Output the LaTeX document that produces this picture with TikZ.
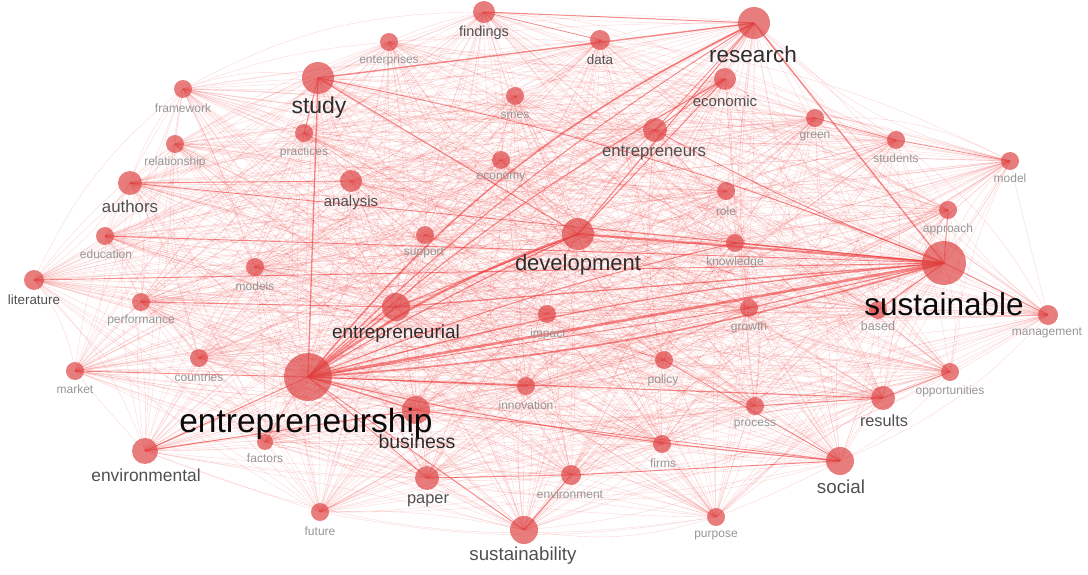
\documentclass[tikz,border=0pt]{standalone}
\usepackage{fontspec}
\setmainfont{Liberation Sans}
\pgfdeclarelayer{bg}
\pgfsetlayers{bg,main}
\definecolor{nodered}{RGB}{222,70,70}
\definecolor{edgered}{RGB}{235,45,45}
\definecolor{lblblack}{RGB}{10,10,10}
\definecolor{lbldark}{RGB}{45,45,45}
\definecolor{lblmid}{RGB}{80,80,80}
\definecolor{lbllight}{RGB}{150,150,150}
\begin{document}
\begin{tikzpicture}[x=1pt,y=-1pt,
  kw/.style={circle,fill=nodered,fill opacity=0.7,inner sep=0pt,draw=none},
  mesh/.style={draw=edgered,draw opacity=0.19,line width=0.4pt},
  strong/.style={draw=edgered,draw opacity=0.55,line width=#1},
  lbl/.style 2 args={inner sep=0pt,text=#2,font=\fontsize{#1}{#1}\selectfont}]
\useasboundingbox (0,0) rectangle (1088,575);
\def\kwlist{findings,enterprises,data,research,economic,study,framework,smes,green,practices,entrepreneurs,students,relationship,economy,model,authors,analysis,role,approach,education,support,development,knowledge,sustainable,literature,models,performance,entrepreneurial,impact,growth,based,management,market,countries,entrepreneurship,policy,opportunities,innovation,results,business,process,environmental,factors,firms,social,paper,environment,future,purpose,sustainability}
% keyword circles
\foreach \n/\x/\y/\r in {
findings/484/12/11, enterprises/389/42/9, data/600/40/10, research/754/23/16,
economic/725/79/11, study/318/78/16, framework/183/89/9, smes/515/96/9,
green/815/118/9, practices/304/133/9, entrepreneurs/655/130/12, students/896/140/9,
relationship/175/144/9, economy/501/160/9, model/1010/161/9, authors/130/183/12,
analysis/351/181/11, role/726/191/9, approach/948/210/9, education/105/236/9,
support/425/235/9, development/578/234/16, knowledge/735/243/9, sustainable/944/263/22,
literature/34/280/10, models/255/267/9, performance/141/302/9, entrepreneurial/396/307/14,
impact/547/314/9, growth/749/308/9, based/878/310/9, management/1048/315/10,
market/75/371/9, countries/199/358/9, entrepreneurship/308/377/24, policy/664/360/9,
opportunities/950/372/9, innovation/526/386/9, results/883/398/12, business/416/410/14,
process/755/406/9, environmental/145/451/13, factors/265/442/8, firms/662/444/9,
social/840/461/14, paper/427/478/12, environment/571/475/10, future/320/512/9,
purpose/716/517/9, sustainability/524/530/14}
  \node[kw,minimum size={2*\r pt}] (\n) at (\x,\y) {};
% connectors
\begin{pgfonlayer}{bg}
\foreach \a [count=\i] in \kwlist {
  \foreach \b [count=\j] in \kwlist {
    \ifnum\j>\i
      \pgfmathtruncatemacro{\bd}{mod(\i*37+\j*17,31)-15}
      \draw[mesh] (\a.center) to[bend left=\bd] (\b.center);
    \fi
  }
}
\foreach \a/\b/\bd/\w in {
entrepreneurship/sustainable/0/2.6pt, entrepreneurship/sustainable/-6/1.6pt,
entrepreneurship/sustainable/5/1.3pt, entrepreneurship/development/8/2.2pt,
entrepreneurship/development/3/1.2pt,
entrepreneurship/research/12/1.6pt, entrepreneurship/research/6/1pt,
entrepreneurship/study/0/1.3pt,
entrepreneurship/business/0/1.5pt, entrepreneurship/entrepreneurial/0/1.5pt,
entrepreneurship/results/0/1.1pt, entrepreneurship/social/-4/1.1pt,
entrepreneurship/environmental/0/1pt, entrepreneurship/market/0/0.9pt,
entrepreneurship/economic/6/1.1pt, entrepreneurship/sustainability/0/0.9pt,
entrepreneurship/innovation/0/0.9pt, entrepreneurship/paper/0/0.8pt,
entrepreneurship/knowledge/4/1pt, entrepreneurship/growth/0/0.9pt,
sustainable/development/0/2.2pt, sustainable/research/0/1.4pt,
sustainable/knowledge/0/1.3pt, sustainable/entrepreneurial/0/1.3pt,
sustainable/growth/0/1.1pt, sustainable/approach/0/1pt, sustainable/management/0/0.9pt,
sustainable/authors/0/0.9pt, sustainable/education/0/0.9pt,
sustainable/literature/0/0.9pt, sustainable/based/0/1pt,
sustainable/entrepreneurs/4/0.9pt, sustainable/study/-5/0.9pt,
study/research/0/1.4pt, findings/research/0/1pt, study/development/0/1.1pt,
development/research/0/1.1pt, economic/development/0/1pt,
entrepreneurial/performance/0/0.9pt, entrepreneurial/development/0/0.9pt,
results/process/0/1pt, results/opportunities/0/0.8pt, social/policy/0/0.8pt,
social/environment/0/0.8pt, social/business/0/0.8pt,
sustainability/environment/0/1pt, environmental/business/0/1pt,
paper/environment/0/0.8pt, green/students/0/0.8pt, students/model/0/0.8pt,
entrepreneurs/research/0/0.8pt, entrepreneurs/economic/0/0.8pt,
authors/analysis/0/0.8pt, study/practices/0/0.8pt, data/findings/0/0.8pt}
  \draw[strong=\w] (\a.center) to[bend left=\bd] (\b.center);
\end{pgfonlayer}
% labels
\foreach \n/\lx/\ly/\s/\c in {
findings/484/33/14.5/lblmid, enterprises/389/60/12/lbllight, data/600/60/13.4/lblmid,
research/753/54/22.5/lbldark, economic/725/101/15/lblmid, study/319/108/23/lbldark,
framework/183/108/12/lbllight, smes/515/115/12/lbllight, green/815/137/12/lbllight,
practices/304/152/12/lbllight, entrepreneurs/654/153/16.7/lblmid, students/896/158/12/lbllight,
relationship/175/162/12/lbllight, economy/501/178/12/lbllight, model/1010/178/12/lbllight,
authors/130/206/16.8/lblmid, analysis/351/203/15/lblmid, role/726/211/12/lbllight,
approach/948/229/12/lbllight, education/106/254/12/lbllight, support/424/253/12/lbllight,
development/578/265/22/lbldark, knowledge/735/262/12/lbllight, sustainable/944/304/31.5/lblblack,
literature/34/300/13.4/lblmid, models/255/286/12/lbllight, performance/141/320/12/lbllight,
entrepreneurial/396/334/19/lbldark, impact/548/334/12/lbllight, growth/749/327/12/lbllight,
based/878/326/12.5/lbllight, management/1047/333/12/lbllight, market/75/389/12/lbllight,
countries/199/377/12/lbllight, entrepreneurship/306/424/33.5/lblblack, policy/663/380/12/lbllight,
opportunities/950/391/12/lbllight, innovation/526/405/12/lbllight, results/884/421/16.3/lblmid,
business/417/442/19.5/lbldark, process/755/425/12/lbllight, environmental/146/475/17.4/lblmid,
factors/265/458/12/lbllight, firms/663/463/12/lbllight, social/841/487/18.8/lblmid,
paper/428/501/16.4/lblmid, environment/570/494/12/lbllight, future/320/531/12/lbllight,
purpose/716/536/12/lbllight, sustainability/523/556/18.7/lblmid}
  \node[lbl={\s}{\c}] (\n-l) at (\lx,\ly) {\n};
\end{tikzpicture}
\end{document}
